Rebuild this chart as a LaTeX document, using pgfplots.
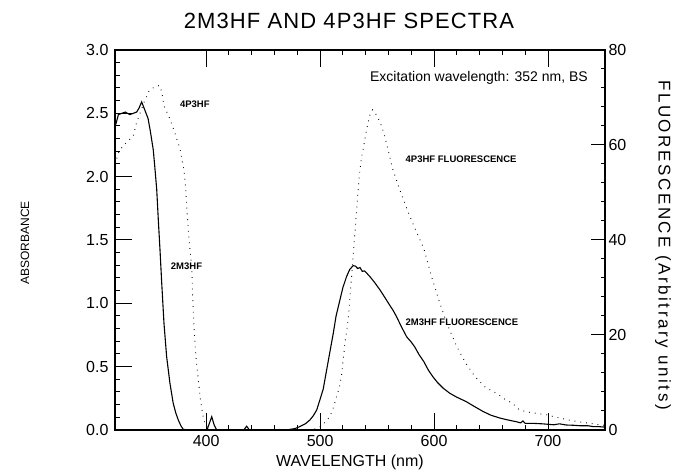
\documentclass[border=0pt]{standalone}
\usepackage{pgfplots}
\pgfplotsset{compat=1.18}
\usepackage{fontspec}
\setmainfont{Liberation Sans}

\begin{document}
\begin{tikzpicture}[x=1pt,y=1pt]
\useasboundingbox (0,0) rectangle (677,476);
\begin{axis}[
  at={(115pt,46pt)}, anchor=south west,
  width=490pt, height=380pt, scale only axis,
  xmin=320, xmax=750, ymin=0, ymax=3,
  xtick={400,500,600,700}, minor x tick num=4,
  ytick={0,0.5,1,1.5,2,2.5,3}, minor y tick num=4,
  ytick pos=left, xtick pos=both,
  tick align=inside,
  major tick length=17pt, minor tick length=5pt,
  axis line style={line width=1.4pt},
  every tick/.style={black, line width=1pt},
  /pgf/number format/assume math mode=true,
  tick label style={font=\fontsize{16}{18}\selectfont},
  yticklabel style={/pgf/number format/fixed, /pgf/number format/precision=1, /pgf/number format/fixed zerofill, xshift=-3pt},
  xticklabel style={yshift=-2pt},
  clip=true,
]
% 2M3HF absorbance (solid)
\addplot[black, line width=1.1pt] coordinates {
(320,2.39) (323,2.49) (326,2.50) (329,2.51) (331,2.50) (333,2.49) (336,2.50) (339,2.51)
(341,2.54) (343.4,2.59) (346,2.53) (349,2.46) (351,2.36) (353.6,2.21) (355,2.07) (356.6,1.90)
(358,1.66) (359.5,1.42) (361,1.16) (363,0.84) (365.3,0.58) (368.2,0.37) (371.1,0.21)
(373.5,0.13) (375.5,0.08) (378,0.03) (380,0.005) (385,0) (395,0) (401,0) (401.5,0.02)
(404.9,0.105) (407,0.04) (409.3,0) (420,0) (433,0) (435.5,0.03) (438,0) (445,0) (470,0)
};
% 4P3HF absorbance (dotted)
\addplot[black, line width=0.9pt, dash pattern=on 0.8pt off 5pt] coordinates {
(320,2.10) (324,2.21) (330,2.27) (336,2.32) (339,2.43) (342,2.50) (346,2.60) (350,2.68)
(355,2.71) (359,2.72) (361,2.67) (363,2.56) (366,2.50) (368,2.46) (372,2.36) (377,2.22)
(380.5,2.05) (382,1.91) (383.4,1.70) (385,1.50) (387.3,1.29) (388.7,0.92) (390.2,0.68)
(391,0.58) (393,0.40) (395,0.24) (397,0.12) (399,0.05) (402,0.01) (406,0)
};
\node[anchor=east, font=\fontsize{14}{16}\selectfont] at (axis cs:738,2.78) {Excitation wavelength: 352 nm, BS};
\node[anchor=west, font=\bfseries\fontsize{9.5}{11}\selectfont] at (axis cs:374,2.57) {4P3HF};
\node[anchor=west, font=\bfseries\fontsize{9.5}{11}\selectfont] at (axis cs:366,1.29) {2M3HF};
\node[anchor=west, font=\bfseries\fontsize{9.5}{11}\selectfont] at (axis cs:572,2.14) {4P3HF FLUORESCENCE};
\node[anchor=west, font=\bfseries\fontsize{9.5}{11}\selectfont] at (axis cs:572,0.85) {2M3HF FLUORESCENCE};
\end{axis}
\begin{axis}[
  at={(115pt,46pt)}, anchor=south west,
  width=490pt, height=380pt, scale only axis,
  xmin=320, xmax=750, ymin=0, ymax=80,
  axis x line=none, axis y line*=right,
  ytick={0,20,40,60,80}, minor y tick num=4,
  tick align=inside,
  major tick length=14pt, minor tick length=4pt,
  axis line style={line width=1.4pt},
  every tick/.style={black, line width=1pt},
  /pgf/number format/assume math mode=true,
  tick label style={font=\fontsize{16}{18}\selectfont},
  clip=true,
]
% 2M3HF fluorescence (solid)
\addplot[black, line width=1.1pt] coordinates {
(470,0) (478,0.3) (482,0.7) (487,1.3) (491,2.1) (494,3.0) (497,4.2) (500,6.5) (502.7,8.6)
(506,13) (509,17) (511.5,20.3) (514,24) (517.4,27.4) (520,30) (523.2,32.3) (526,33.8)
(529,34.6) (531,34.5) (533,34.0) (535,34.2) (537,33.4) (539,33.5) (541,33.0) (544,32.2)
(548,31.0) (552.5,29.5) (556,28.2) (561,26.3) (564,25.2) (567,23.9) (571,21.9) (576,19.6)
(580,18.5) (583,17.5) (587,15.8) (591,14.4) (595,12.6) (599,11.2) (603,10.0) (608,8.8)
(614,7.7) (620,6.9) (628,6.0) (635,5.0) (643,3.9) (650,3.1) (658,2.5) (665,2.1) (672,1.75)
(676,1.5) (678,1.9) (680,1.4) (687,1.4) (695,1.3) (700,1.2) (705,1.1) (710,1.3) (716,1.05)
(722,1.0) (728,0.9) (735,0.9) (740,0.7) (745,0.7) (750,0.6)
};
% 4P3HF fluorescence (dotted)
\addplot[black, line width=0.9pt, dash pattern=on 0.8pt off 5pt] coordinates {
(490,0) (497,0.3) (500,0.7) (505,1.8) (508.6,2.8) (512,5) (515,7.5) (517,9) (519,11.9)
(521.8,18.3) (524.6,23.2) (527.6,32.3) (529.6,38.6) (532,46.3) (534.3,53.3) (536.4,57.5)
(538.4,60) (541,63.5) (543.7,66.3) (546,67.4) (549.5,66.3) (552.5,64.9) (556,62.5)
(559,59.6) (564,54.7) (570,50.5) (577,46) (584,42) (591,38.2) (597.8,32.3) (605,26.7)
(612,22) (620,17.5) (628,14) (636,11.2) (645,9.0) (655,7.7) (662,6.5) (669,5.6) (675,4.2)
(682,3.8) (690,3.5) (699,3.2) (705,2.8) (711,2.5) (720,2.0) (728,1.7) (737,1.4) (745,1.1)
(750,1.0)
};
\end{axis}
\node[font=\fontsize{22}{26}\selectfont\addfontfeatures{LetterSpace=5}] at (349,455) {2M3HF AND 4P3HF SPECTRA};
\node[font=\fontsize{16}{18}\selectfont] at (350,14) {WAVELENGTH (nm)};
\node[font=\fontsize{12}{14}\selectfont, rotate=90] at (25,233) {ABSORBANCE};
\node[font=\fontsize{17}{19}\selectfont\addfontfeatures{LetterSpace=15}, rotate=-90] at (663,231) {FLUORESCENCE (Arbitrary units)};
\end{tikzpicture}
\end{document}
